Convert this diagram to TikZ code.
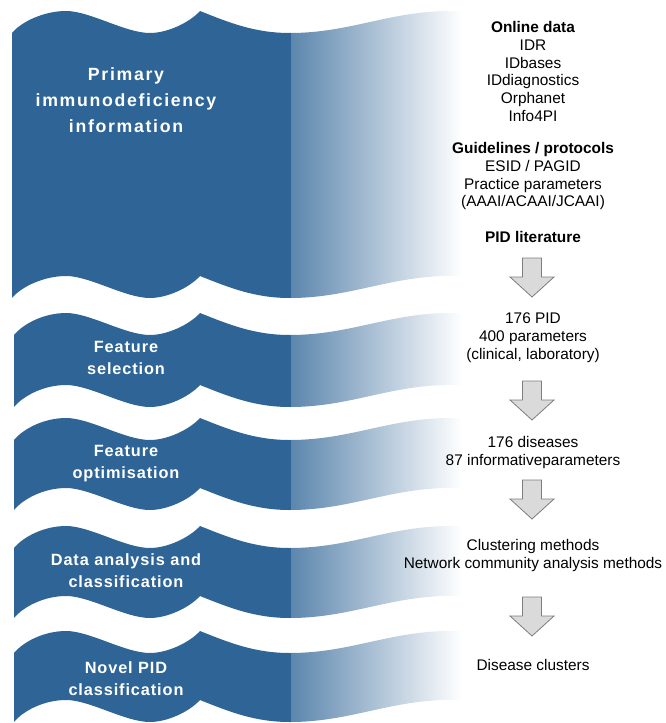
\documentclass[tikz,border=0pt]{standalone}
\usepackage{fontspec}
\setmainfont{Liberation Sans}
\newfontfamily\stagefontwide{Liberation Sans}[LetterSpace=9.5]
\newfontfamily\stagefont{Liberation Sans}[LetterSpace=5.5]

\definecolor{pidblue}{RGB}{46,100,150}
\definecolor{arrowfill}{RGB}{218,218,218}
\definecolor{arrowline}{RGB}{125,125,125}

% Outline of one wavy band: #1 = left x, #2 = top trough y, #3 = bottom trough y
\newcommand\bandpath[3]{(#1,#2)
  .. controls (#1+10,#2-12) and (45,#2-22) .. (66,#2-22)
  .. controls (90,#2-22) and (125,#2) .. (150,#2)
  .. controls (167,#2) and (189,#2-10) .. (200,#2-22)
  .. controls (230,#2-10) and (255,#2) .. (290,#2)
  .. controls (350,#2) and (390,#2-22) .. (450,#2-22)
  -- (475,#2-22) -- (475,#3-22) -- (450,#3-22)
  .. controls (390,#3-22) and (350,#3) .. (290,#3)
  .. controls (255,#3) and (230,#3-10) .. (200,#3-22)
  .. controls (189,#3-10) and (167,#3) .. (150,#3)
  .. controls (125,#3) and (90,#3-22) .. (66,#3-22)
  .. controls (45,#3-22) and (#1+10,#3-12) .. (#1,#3) -- cycle}

% Band filled solid blue on the left, fading to white on the right
\newcommand\stageband[3]{%
  \begin{scope}
    \clip \bandpath{#1}{#2}{#3};
    \fill[pidblue] (0,#2-30) rectangle (291,#3+5);
    \shade[left color=pidblue!78!white,right color=white] (291,#2-30) rectangle (462,#3+5);
  \end{scope}}

% Block arrow pointing down, hanging from the named coordinate #1
\newcommand\flowarrow[1]{%
  \draw[blockarrow] (#1) ++(-9.5,0) -- ++(19,0) -- ++(0,19) -- ++(12.5,0)
    -- ++(-22,20) -- ++(-22,-20) -- ++(12.5,0) -- cycle;}

\begin{document}
\begin{tikzpicture}[x=1pt,y=-1pt,
  blockarrow/.style={fill=arrowfill,draw=arrowline,line width=0.8pt,line join=miter},
  stagetitle/.style={anchor=base,inner sep=0pt,text=white,
    font=\stagefontwide\bfseries\fontsize{17.7}{26}\selectfont},
  stagelabel/.style={anchor=base,inner sep=0pt,text=white,
    font=\stagefont\bfseries\fontsize{16.3}{22}\selectfont},
  infotext/.style={anchor=base,inner sep=0pt,
    font=\fontsize{15.4}{17.8}\selectfont}]
\useasboundingbox (0,0) rectangle (665,723);

% wavy stage bands
\stageband{12}{33}{298}
\stageband{14}{335}{407}
\stageband{14}{440}{510}
\stageband{14}{548}{618}
\stageband{14}{653}{722}

% stage names
\node[stagetitle] (info) at (126,80.3)
  {\begin{tabular}[t]{@{}c@{}}Primary\\immunodeficiency\\information\end{tabular}};
\node[stagelabel] (select) at (126,352.8)
  {\begin{tabular}[t]{@{}c@{}}Feature\\selection\end{tabular}};
\node[stagelabel] (optim) at (126,456.8)
  {\begin{tabular}[t]{@{}c@{}}Feature\\optimisation\end{tabular}};
\node[stagelabel] (analysis) at (126,565.8)
  {\begin{tabular}[t]{@{}c@{}}Data analysis and\\classification\end{tabular}};
\node[stagelabel] (novel) at (126,673.8)
  {\begin{tabular}[t]{@{}c@{}}Novel PID\\classification\end{tabular}};

% sources and results
\node[infotext] (online) at (533,32.5)
  {\begin{tabular}[t]{@{}c@{}}\textbf{Online data}\\IDR\\IDbases\\IDdiagnostics\\Orphanet\\Info4PI\end{tabular}};
\node[infotext] (guide) at (533,153.5)
  {\begin{tabular}[t]{@{}c@{}}\textbf{Guidelines / protocols}\\ESID / PAGID\\Practice parameters\\(AAAI/ACAAI/JCAAI)\end{tabular}};
\node[infotext] (lit) at (533,242.5) {\textbf{PID literature}};
\node[infotext] (params) at (533,323.5)
  {\begin{tabular}[t]{@{}c@{}}176 PID\\400 parameters\\(clinical, laboratory)\end{tabular}};
\node[infotext] (informative) at (533,447.5)
  {\begin{tabular}[t]{@{}c@{}}176 diseases\\87 informativeparameters\end{tabular}};
\node[infotext] (methods) at (533,550.5)
  {\begin{tabular}[t]{@{}c@{}}Clustering methods\\Network community analysis methods\end{tabular}};
\node[infotext] (clusters) at (533,670.5) {Disease clusters};

% arrows between the steps
\coordinate (a1) at (532,258);
\coordinate (a2) at (532,381);
\coordinate (a3) at (532,480);
\coordinate (a4) at (532,597);
\flowarrow{a1}
\flowarrow{a2}
\flowarrow{a3}
\flowarrow{a4}
\end{tikzpicture}
\end{document}
